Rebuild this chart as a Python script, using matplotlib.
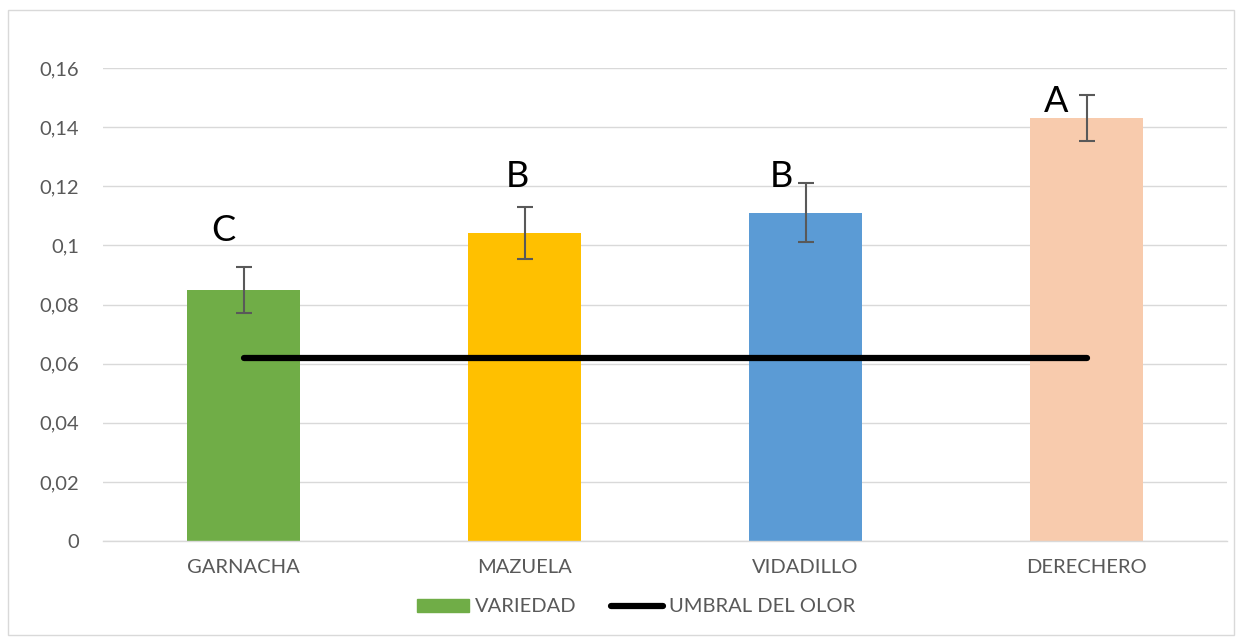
import matplotlib.pyplot as plt
from matplotlib.patches import Rectangle
from matplotlib.lines import Line2D
from matplotlib.ticker import FuncFormatter

plt.rcParams['font.family'] = ['Lato', 'DejaVu Sans']

# Data
varieties = ['GARNACHA', 'MAZUELA', 'VIDADILLO', 'DERECHERO']
values = [0.085, 0.1042, 0.111, 0.1431]
errors = [0.0078, 0.0087, 0.010, 0.0078]
letters = ['C', 'B', 'B', 'A']
letter_y = [0.1015, 0.1196, 0.1196, 0.1451]   # baseline of each letter
letter_dx = [-0.071, -0.027, -0.087, -0.107]  # offset from bar centre
threshold = [0.062, 0.062, 0.062, 0.062]
bar_colors = ['#70AD47', '#FFC000', '#5B9BD5', '#F8CBAD']
y_ticks = [0, 0.02, 0.04, 0.06, 0.08, 0.10, 0.12, 0.14, 0.16]

TEXT_GREY = '#595959'
GRID_GREY = '#D9D9D9'

fig = plt.figure(figsize=(12.42, 6.37), dpi=100)
ax = fig.add_axes([103 / 1242, 1 - 541 / 637, 1124 / 1242, 473 / 637])

x = list(range(len(varieties)))
ax.bar(x, values, width=0.40, color=bar_colors, zorder=2)
ax.errorbar(x, values, yerr=errors, fmt='none', ecolor=TEXT_GREY,
            elinewidth=1.5, capsize=6, capthick=1.5, zorder=3)
ax.plot(x, threshold, color='black', lw=4.5, solid_capstyle='round',
        zorder=4)

# Significance letters
for xi, dx, ly, letter in zip(x, letter_dx, letter_y, letters):
    ax.text(xi + dx, ly, letter, ha='center', va='baseline',
            fontsize=26, color='black', zorder=5)

ax.set_xlim(-0.5, 3.5)
ax.set_ylim(0, 0.16)
ax.set_yticks(y_ticks)
ax.yaxis.set_major_formatter(FuncFormatter(
    lambda v, pos: '0' if v == 0 else ('%g' % round(v, 2)).replace('.', ',')))
ax.set_xticks(x)
ax.set_xticklabels(varieties)
ax.tick_params(axis='both', length=0, labelsize=14.5, colors=TEXT_GREY)
ax.tick_params(axis='x', pad=13)
ax.tick_params(axis='y', pad=17)

ax.grid(axis='y', color=GRID_GREY, lw=1, zorder=0)
ax.set_axisbelow(True)
for side in ['top', 'right', 'left']:
    ax.spines[side].set_visible(False)
ax.spines['bottom'].set_color(GRID_GREY)
ax.spines['bottom'].set_linewidth(1)

handles = [Rectangle((0, 0), 1, 1, color=bar_colors[0]),
           Line2D([0], [0], color='black', lw=4.5, solid_capstyle='round')]
fig.legend(handles, ['VARIEDAD', 'UMBRAL DEL OLOR'], loc='center',
           bbox_to_anchor=(636 / 1242, 1 - 607 / 637), ncol=2, frameon=False,
           fontsize=14.5, labelcolor=TEXT_GREY, handlelength=2.6,
           handleheight=0.6, handletextpad=0.3, columnspacing=1.7)

# Light chart-area border
fig.patches.append(Rectangle((8 / 1242, 2 / 637), 1226 / 1242, 625 / 637,
                             transform=fig.transFigure, fill=False,
                             edgecolor=GRID_GREY, lw=1))

fig.savefig('out.png', dpi=100)
